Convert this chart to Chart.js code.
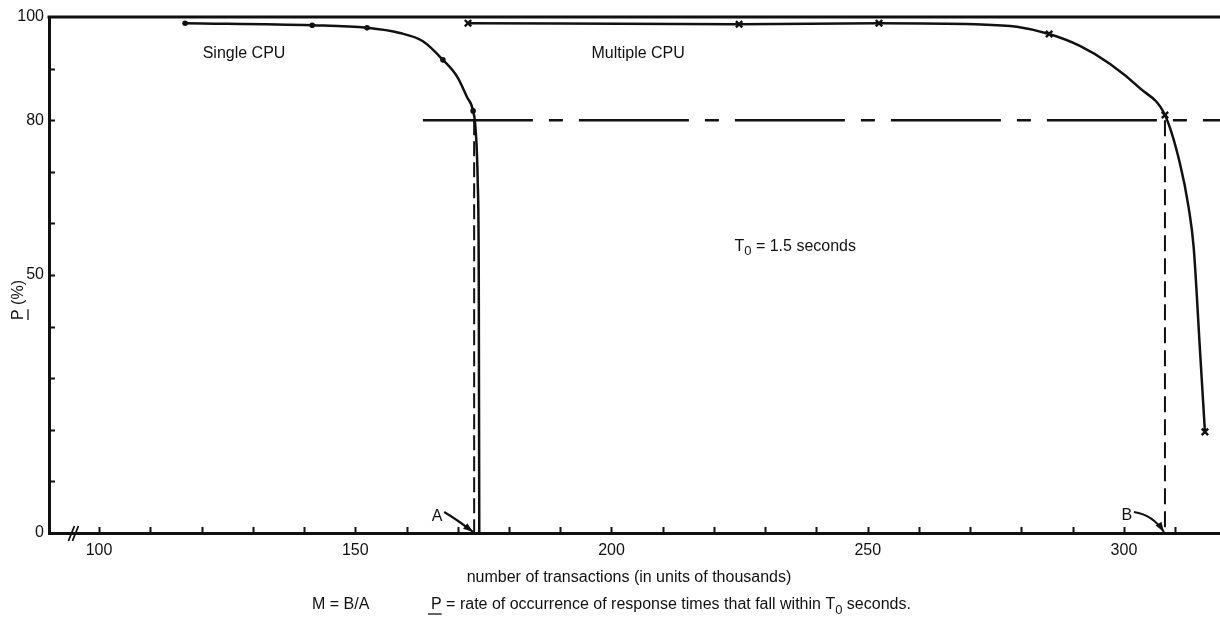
<!doctype html>
<html>

<head>
    <title>P (%) versus number of transactions</title>
    <script src="https://cdn.jsdelivr.net/npm/chart.js@4.4.0/dist/chart.umd.min.js"></script>
    <style>
    html, body {
        margin: 0;
        padding: 0;
        overflow: hidden;
        background: #fff;
    }
    canvas {
        display: block;
    }
    </style>
</head>

<body>
    <canvas id="canvas" width="1220" height="619"></canvas>

    <script>
        // Single CPU curve (mark 1 = plotted dot, 0 = only on the drawn curve)
        var singleX = [116.8, 141.6, 152.3, 158.7, 163.2, 167.1, 169.9, 171.8, 173.0, 173.5, 173.9, 174.1, 174.15, 174.2];
        var singleP = [98.8, 98.4, 97.9, 96.9, 95.3, 91.7, 88.4, 84.5, 81.8, 78.0, 68.0, 50.0, 25.0, 0];
        var singleMark = [1, 1, 1, 0, 0, 1, 0, 0, 1, 0, 0, 0, 0, 0];

        // Multiple CPU curve (mark 1 = plotted x)
        var multiX = [172.0, 224.9, 252.2, 270.9, 279.1, 285.4, 291.4, 297.3, 303.1, 308.0, 310.9, 312.6, 313.6, 314.8, 315.8];
        var multiP = [98.8, 98.6, 98.8, 98.6, 98.1, 96.7, 94.4, 90.9, 86.2, 81.0, 71.7, 63.2, 55.4, 36.0, 19.6];
        var multiMark = [1, 1, 1, 0, 0, 1, 0, 0, 0, 1, 0, 0, 0, 0, 1];

        // 80% reference level and the two crossing points A and B
        var refLevel = 80;
        var refStart = 163.2;
        var pointA = 173.2;
        var pointB = 308.0;

        var xLabels = [100, 150, 200, 250, 300];
        var yLabels = [0, 50, 80, 100];

        var xMin = 90.24, xMax = 318.74;

        var ink = '#111';
        var fontFamily = '"Liberation Sans", Arial, Helvetica, sans-serif';
        var font = '16px ' + fontFamily;

        function toPoints(xs, ys) {
            return xs.map(function(x, i) { return {x: x, y: ys[i]}; });
        }

        // text with a subscript piece, drawn left aligned
        function drawSub(ctx, x, y, before, sub, after) {
            ctx.font = font;
            ctx.fillText(before, x, y);
            x += ctx.measureText(before).width;
            ctx.font = '13px ' + fontFamily;
            ctx.fillText(sub, x, y + 5);
            x += ctx.measureText(sub).width;
            ctx.font = font;
            ctx.fillText(after, x, y);
            return x + ctx.measureText(after).width;
        }

        function drawArrow(ctx, x0, y0, cx, cy, x1, y1) {
            ctx.lineWidth = 2.2;
            ctx.beginPath();
            ctx.moveTo(x0, y0);
            ctx.quadraticCurveTo(cx, cy, x1, y1);
            ctx.stroke();
            var a = Math.atan2(y1 - cy, x1 - cx);
            ctx.beginPath();
            ctx.moveTo(x1, y1);
            ctx.lineTo(x1 - 10 * Math.cos(a) + 3.5 * Math.sin(a), y1 - 10 * Math.sin(a) - 3.5 * Math.cos(a));
            ctx.lineTo(x1 - 10 * Math.cos(a) - 3.5 * Math.sin(a), y1 - 10 * Math.sin(a) + 3.5 * Math.cos(a));
            ctx.closePath();
            ctx.fill();
        }

        var paperPlugin = {
            id: 'paper',
            afterDatasetsDraw: function(chart) {
                var ctx = chart.ctx;
                var xs = chart.scales.x;
                var ys = chart.scales.y;
                var area = chart.chartArea;
                ctx.save();
                ctx.strokeStyle = ink;
                ctx.fillStyle = ink;

                // top frame line at 100
                ctx.lineWidth = 3;
                ctx.beginPath();
                ctx.moveTo(area.left - 1.5, ys.getPixelForValue(100));
                ctx.lineTo(area.right, ys.getPixelForValue(100));
                ctx.stroke();

                // inward tick marks
                ctx.lineWidth = 2;
                ctx.beginPath();
                ys.ticks.forEach(function(t) {
                    if (t.value > 0 && t.value < 100) {
                        var py = Math.round(ys.getPixelForValue(t.value)) + 0.5;
                        ctx.moveTo(area.left, py);
                        ctx.lineTo(area.left + 6, py);
                    }
                });
                xs.ticks.forEach(function(t) {
                    if (t.value >= 100 && t.value <= xMax && Math.abs(t.value % 10) < 1e-6) {
                        var px = Math.round(xs.getPixelForValue(t.value)) + 0.5;
                        ctx.moveTo(px, area.bottom);
                        ctx.lineTo(px, area.bottom - 6);
                    }
                });
                ctx.stroke();

                // axis break mark
                var bx = xs.getPixelForValue(95.2);
                var by = area.bottom;
                ctx.lineWidth = 1.8;
                ctx.beginPath();
                ctx.moveTo(bx - 6, by + 8);
                ctx.lineTo(bx, by - 7);
                ctx.moveTo(bx - 2, by + 8);
                ctx.lineTo(bx + 4, by - 7);
                ctx.stroke();

                // labels inside the plot
                ctx.font = font;
                ctx.textAlign = 'center';
                ctx.textBaseline = 'middle';
                ctx.fillText('Single CPU', xs.getPixelForValue(128.3), ys.getPixelForValue(93));
                ctx.fillText('Multiple CPU', xs.getPixelForValue(205.2), ys.getPixelForValue(93));
                ctx.textAlign = 'left';
                drawSub(ctx, xs.getPixelForValue(224.0), ys.getPixelForValue(55.6), 'T', '0', ' = 1.5 seconds');

                // A and B pointers
                var ax = xs.getPixelForValue(pointA);
                var bxp = xs.getPixelForValue(pointB);
                var y0 = ys.getPixelForValue(0);
                ctx.textAlign = 'center';
                ctx.fillText('A', ax - 37, y0 - 16);
                ctx.fillText('B', bxp - 38, y0 - 17);
                drawArrow(ctx, ax - 30, y0 - 21, ax - 18, y0 - 14, ax - 1, y0 - 1);
                drawArrow(ctx, bxp - 31, y0 - 21, bxp - 12, y0 - 18, bxp - 1, y0 - 1);

                // axis title and caption
                ctx.textAlign = 'center';
                ctx.fillText('number of transactions (in units of thousands)', 629, 578);
                ctx.textAlign = 'left';
                ctx.fillText('M = B/A', 312, 605);
                ctx.fillText('P', 431, 605);
                var pw = ctx.measureText('P').width;
                ctx.lineWidth = 1.3;
                ctx.beginPath();
                ctx.moveTo(428, 614);
                ctx.lineTo(431 + pw, 614);
                ctx.stroke();
                drawSub(ctx, 431 + pw, 605, ' = rate of occurrence of response times that fall within T', '0', ' seconds.');

                // rotated y title with underlined P
                ctx.translate(19, 300);
                ctx.rotate(-Math.PI / 2);
                ctx.textAlign = 'center';
                ctx.font = font;
                var title = 'P (%)';
                var tw = ctx.measureText(title).width;
                ctx.fillText(title, 0, 0);
                ctx.beginPath();
                ctx.moveTo(-tw / 2, 9);
                ctx.lineTo(-tw / 2 + ctx.measureText('P').width, 9);
                ctx.stroke();

                ctx.restore();
            }
        };

        window.onload = function() {
            var ctx = document.getElementById('canvas').getContext('2d');
            window.myChart = new Chart(ctx, {
                type: 'scatter',
                data: {
                    datasets: [{
                        label: '80% level',
                        data: [{x: refStart, y: refLevel}, {x: xMax, y: refLevel}],
                        showLine: true,
                        borderColor: ink,
                        borderWidth: 2.5,
                        borderDash: [110, 16, 14, 16],
                        pointRadius: 0
                    }, {
                        label: 'A',
                        data: [{x: pointA, y: refLevel}, {x: pointA, y: 0}],
                        showLine: true,
                        borderColor: ink,
                        borderWidth: 2,
                        borderDash: [15, 6],
                        pointRadius: 0
                    }, {
                        label: 'B',
                        data: [{x: pointB, y: refLevel}, {x: pointB, y: 0}],
                        showLine: true,
                        borderColor: ink,
                        borderWidth: 2,
                        borderDash: [16, 7],
                        pointRadius: 0
                    }, {
                        label: 'Single CPU',
                        data: toPoints(singleX, singleP),
                        showLine: true,
                        cubicInterpolationMode: 'monotone',
                        borderColor: ink,
                        borderWidth: 2.5,
                        pointStyle: 'circle',
                        pointRadius: singleMark.map(function(m) { return m ? 2.8 : 0; }),
                        pointBackgroundColor: ink,
                        pointBorderColor: ink,
                        pointBorderWidth: 0
                    }, {
                        label: 'Multiple CPU',
                        data: toPoints(multiX, multiP),
                        showLine: true,
                        cubicInterpolationMode: 'monotone',
                        borderColor: ink,
                        borderWidth: 2.5,
                        pointStyle: 'crossRot',
                        pointRadius: multiMark.map(function(m) { return m ? 4.5 : 0; }),
                        pointBorderColor: ink,
                        pointBorderWidth: 2.4
                    }]
                },
                options: {
                    responsive: false,
                    animation: false,
                    layout: {
                        autoPadding: false,
                        padding: {top: 17, right: 0, left: 0, bottom: 0}
                    },
                    plugins: {
                        legend: {display: false},
                        tooltip: {enabled: false}
                    },
                    scales: {
                        x: {
                            type: 'linear',
                            min: xMin,
                            max: xMax,
                            afterFit: function(scale) {
                                scale.height = 86;
                                scale.paddingLeft = 0;
                                scale.paddingRight = 0;
                            },
                            grid: {drawOnChartArea: false, drawTicks: false},
                            border: {display: true, width: 3, color: ink},
                            ticks: {
                                stepSize: 10,
                                includeBounds: false,
                                autoSkip: false,
                                maxRotation: 0,
                                padding: 8,
                                color: ink,
                                font: {family: fontFamily, size: 16},
                                callback: function(v) {
                                    return xLabels.indexOf(Math.round(v * 1000) / 1000) >= 0 ? String(v) : '';
                                }
                            }
                        },
                        y: {
                            min: 0,
                            max: 100,
                            afterFit: function(scale) {
                                scale.width = 49;
                                scale.paddingTop = 0;
                                scale.paddingBottom = 0;
                            },
                            grid: {drawOnChartArea: false, drawTicks: false},
                            border: {display: true, width: 3, color: ink},
                            ticks: {
                                stepSize: 10,
                                autoSkip: false,
                                padding: 5,
                                color: ink,
                                font: {family: fontFamily, size: 16},
                                callback: function(v) {
                                    return yLabels.indexOf(v) >= 0 ? String(v) : '';
                                }
                            }
                        }
                    }
                },
                plugins: [paperPlugin]
            });
        };
    </script>
</body>

</html>
